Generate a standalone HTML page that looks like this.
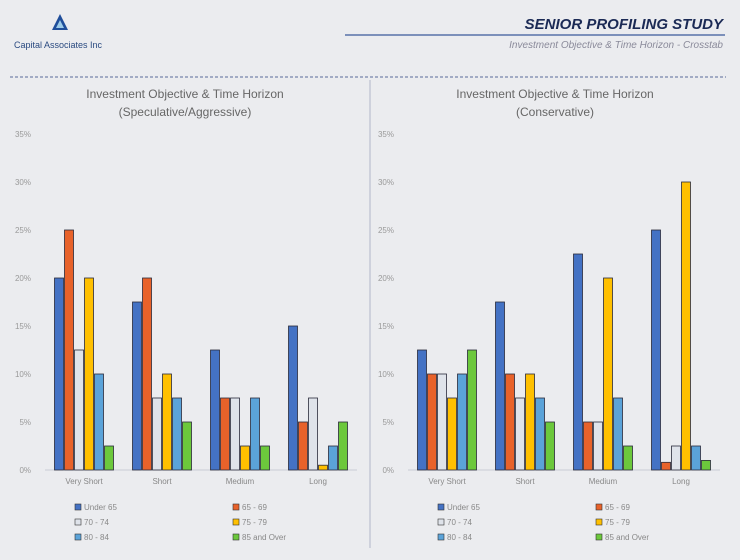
<!DOCTYPE html>
<html><head><meta charset="utf-8">
<style>
body{margin:0;width:740px;height:560px;background:#ebecef;font-family:"Liberation Sans",sans-serif;overflow:hidden;position:relative}
.t{position:absolute;white-space:nowrap}
</style></head>
<body>
<svg width="740" height="560" style="position:absolute;left:0;top:0">
<g>
<polygon points="60,14 52,30 68,30" fill="#1f4e9a"/>
<polygon points="60,20 56,28 64,28" fill="#9ccbe8"/>
</g>
<text x="14" y="48" font-size="9" fill="#2a4a80">Capital Associates Inc</text>
<text x="723" y="29" font-size="15" font-weight="bold" font-style="italic" fill="#1b2a55" text-anchor="end">SENIOR PROFILING STUDY</text>
<line x1="345" y1="35" x2="725" y2="35" stroke="#3a5a9a" stroke-width="1.2"/>
<text x="723" y="48" font-size="10" font-style="italic" fill="#8a8a9a" text-anchor="end">Investment Objective &amp; Time Horizon - Crosstab</text>
<line x1="10" y1="77" x2="726" y2="77" stroke="#5a6a9a" stroke-dasharray="3,2"/>
<line x1="370" y1="80" x2="370" y2="548" stroke="#b0b6c8"/>
<text x="185" y="98" font-size="12" fill="#666" text-anchor="middle">Investment Objective &amp; Time Horizon</text>
<text x="185" y="116" font-size="12" fill="#666" text-anchor="middle">(Speculative/Aggressive)</text>
<text x="555" y="98" font-size="12" fill="#666" text-anchor="middle">Investment Objective &amp; Time Horizon</text>
<text x="555" y="116" font-size="12" fill="#666" text-anchor="middle">(Conservative)</text>
<g id="left"></g><g id="right"></g>
</svg>
<script>
const categories=["Very Short","Short","Medium","Long"];
const series=["Under 65","65 - 69","70 - 74","75 - 79","80 - 84","85 and Over"];
const leftValues=[[20,25,12.5,20,10,2.5],[17.5,20,7.5,10,7.5,5],[12.5,7.5,7.5,2.5,7.5,2.5],[15,5,7.5,0.5,2.5,5]];
const rightValues=[[12.5,10,10,7.5,10,12.5],[17.5,10,7.5,10,7.5,5],[22.5,5,5,20,7.5,2.5],[25,0.8,2.5,30,2.5,1]];
const tickValues=[0,5,10,15,20,25,30,35];
const tickLabels=["0%","5%","10%","15%","20%","25%","30%","35%"];
const colors=["#4472c4","#e8622a","#dfe3ea","#ffc000","#5ba3d9","#6cc83c"];
const NS="http://www.w3.org/2000/svg";
function mk(t,a,p){const e=document.createElementNS(NS,t);for(const k in a)e.setAttribute(k,a[k]);p.appendChild(e);return e;}
function chart(g,vals,x0,side){
  const base=470, pxPer=48/5, gw=78;
  const y=v=>base-v*pxPer;
  tickValues.forEach((v,i)=>{
    const t=mk('text',{x:x0-14,y:y(v)+3,'font-size':8,fill:'#999','text-anchor':'end'},g);
    t.textContent=tickLabels[i];
    
    
  });
  const ax=mk('line',{x1:x0,y1:base,x2:x0+gw*4,y2:base,stroke:'#c8ccd6'},g);
  
  
  vals.forEach((row,ci)=>{
    const cx=x0+gw*ci+gw/2;
    row.forEach((v,si)=>{
      const bx=cx-30+si*10;
      const r=mk('rect',{x:bx+0.5,y:y(v),width:9,height:v*pxPer,fill:colors[si],stroke:'#2a2a3a','stroke-width':0.8},g);
      
      
    });
    const t=mk('text',{x:cx,y:base+14,'font-size':8,fill:'#888','text-anchor':'middle'},g);
    t.textContent=categories[ci];
    
    
  });
  const lx=[x0+30,x0+188];
  series.forEach((s,i)=>{
    const col=i%2, row=Math.floor(i/2);
    const ly=504+row*15;
    const sq=mk('rect',{x:lx[col],y:ly,width:6,height:6,fill:colors[i],stroke:'#333','stroke-width':0.6},g);
    
    
    const t=mk('text',{x:lx[col]+9,y:ly+6,'font-size':8,fill:'#888'},g);
    t.textContent=s;
    
    
  });
}
chart(document.getElementById('left'),leftValues,45,'left');
chart(document.getElementById('right'),rightValues,408,'right');
</script>
</body></html>
